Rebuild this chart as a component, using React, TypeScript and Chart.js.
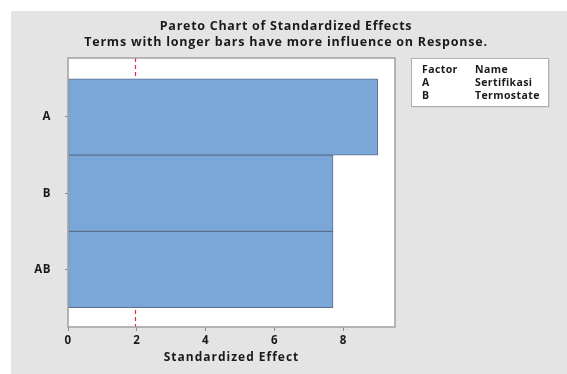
import React, { useEffect, useRef } from "react";
import { Chart, registerables } from "chart.js";

Chart.register(...registerables);

const categories = ["A", "B", "AB"];
const effects = [9.0, 7.7, 7.7];
const xTickValues = [0, 2, 4, 6, 8];
const referenceLine = 1.96;
const factorCodes = ["A", "B"];
const factorNames = ["Sertifikasi", "Termostate"];
const titleText = "Pareto Chart of Standardized Effects";
const subtitleText = "Terms with longer bars have more influence on Response.";
const xTitle = "Standardized Effect";

const FONT = "'Open Sans', 'Noto Sans', sans-serif";

const backgroundPlugin = {
  id: "bgPlugin",
  beforeDraw(chart: any) {
    const { ctx, chartArea } = chart;
    ctx.save();
    ctx.fillStyle = "#ffffff";
    ctx.fillRect(0, 0, chart.width, chart.height);
    ctx.fillStyle = "#e4e4e4";
    ctx.fillRect(11, 11, chart.width - 11, chart.height - 11);
    ctx.fillStyle = "#ffffff";
    ctx.fillRect(chartArea.left, chartArea.top, chartArea.right - chartArea.left, chartArea.bottom - chartArea.top);
    // titles
    ctx.fillStyle = "#1a1a1a";
    ctx.textAlign = "center";
    ctx.textBaseline = "alphabetic";
    ctx.font = `bold 12.5px ${FONT}`;
    ctx.letterSpacing = "0.72px";
    ctx.fillText(titleText, 286, 30);
    ctx.letterSpacing = "0.78px";
    ctx.fillText(subtitleText, 286, 46);
    // factor box
    const bx = 411.5, by = 58.5, bw = 137, bh = 48;
    ctx.fillStyle = "#c8c8c8";
    ctx.fillRect(bx + 1, by + 1, bw, bh);
    ctx.fillStyle = "#ffffff";
    ctx.fillRect(bx, by, bw, bh);
    ctx.strokeStyle = "#b0b0b0";
    ctx.lineWidth = 1;
    ctx.strokeRect(bx, by, bw, bh);
    ctx.fillStyle = "#1a1a1a";
    ctx.textAlign = "left";
    ctx.font = `bold 10.5px ${FONT}`;
    ctx.letterSpacing = "0.4px";
    ctx.fillText("Factor", 422, 73);
    ctx.fillText("Name", 475, 73);
    factorCodes.forEach((c, i) => {
      ctx.fillText(c, 422, 86 + i * 13);
      ctx.fillText(factorNames[i], 475, 86 + i * 13);
    });
    // axis title
    ctx.textAlign = "center";
    ctx.font = `bold 12px ${FONT}`;
    ctx.letterSpacing = "1px";
    ctx.fillText(xTitle, (chartArea.left + chartArea.right) / 2, 361);
    ctx.restore();
    // tick labels inherit this spacing
    ctx.letterSpacing = "0.6px";
  },
  beforeDatasetsDraw(chart: any) {
    const { ctx, chartArea, scales } = chart;
    const x = Math.round(scales.x.getPixelForValue(referenceLine)) + 0.5;
    ctx.save();
    ctx.strokeStyle = "#e8283c";
    ctx.lineWidth = 1.2;
    ctx.setLineDash([4, 3]);
    ctx.beginPath();
    ctx.moveTo(x, chartArea.top);
    ctx.lineTo(x, chartArea.bottom);
    ctx.stroke();
    ctx.restore();
  },
  afterDatasetsDraw(chart: any) {
    const { ctx, chartArea } = chart;
    ctx.save();
    ctx.strokeStyle = "#a0a0a0";
    ctx.lineWidth = 1.5;
    ctx.strokeRect(chartArea.left, chartArea.top, chartArea.right - chartArea.left, chartArea.bottom - chartArea.top);
    ctx.restore();
  },
  afterDraw(chart: any) {
    chart.ctx.letterSpacing = "0px";
  },
};

export default function App() {
  const canvasRef = useRef<HTMLCanvasElement | null>(null);

  useEffect(() => {
    if (!canvasRef.current) return;
    const chart = new Chart(canvasRef.current, {
      type: "bar",
      data: {
        datasets: [
          {
            data: effects.map((v, i) => ({ x: v, y: i + 1 })),
            backgroundColor: "#7ba7d8",
            borderColor: "#5b6f8c",
            borderWidth: 1,
            borderSkipped: false,
            barPercentage: 1,
            categoryPercentage: 1,
          },
        ],
      },
      plugins: [backgroundPlugin],
      options: {
        indexAxis: "y",
        animation: false,
        responsive: false,
        layout: { padding: { left: 0, right: 172, top: 58, bottom: 0 } },
        plugins: {
          legend: { display: false },
          title: { display: false },
          tooltip: { enabled: false },
        },
        scales: {
          x: {
            type: "linear",
            min: 0,
            max: 9.5,
            afterBuildTicks: (scale: any) => {
              scale.ticks = xTickValues.map((v) => ({ value: v }));
            },
            afterFit: (scale: any) => {
              scale.height = 47;
            },
            grid: {
              display: true,
              drawOnChartArea: false,
              drawTicks: true,
              tickLength: 4,
              color: "#8a8a8a",
            },
            border: { display: false },
            ticks: {
              padding: 3,
              color: "#1a1a1a",
              font: { family: FONT, size: 11.5, weight: "bold" },
            },
            title: { display: false },
          },
          y: {
            type: "linear",
            reverse: true,
            min: 0.226,
            max: 3.755,
            offset: false,
            afterBuildTicks: (scale: any) => {
              scale.ticks = categories.map((_, i) => ({ value: i + 1 }));
            },
            afterFit: (scale: any) => {
              scale.width = 68;
            },
            grid: {
              display: true,
              offset: false,
              drawOnChartArea: false,
              drawTicks: true,
              tickLength: 3,
              color: "#8a8a8a",
            },
            border: { display: false },
            ticks: {
              padding: 14,
              color: "#1a1a1a",
              font: { family: FONT, size: 11.5, weight: "bold" },
              callback: (value: any) => categories[Math.round(Number(value)) - 1] ?? "",
            },
          },
        },
      },
    } as any);
    return () => chart.destroy();
  }, []);

  return (
    <div style={{ position: "absolute", left: 0, top: 0, width: 567, height: 374 }}>
      <canvas ref={canvasRef} width={567} height={374} style={{ display: "block" }} />
    </div>
  );
}
